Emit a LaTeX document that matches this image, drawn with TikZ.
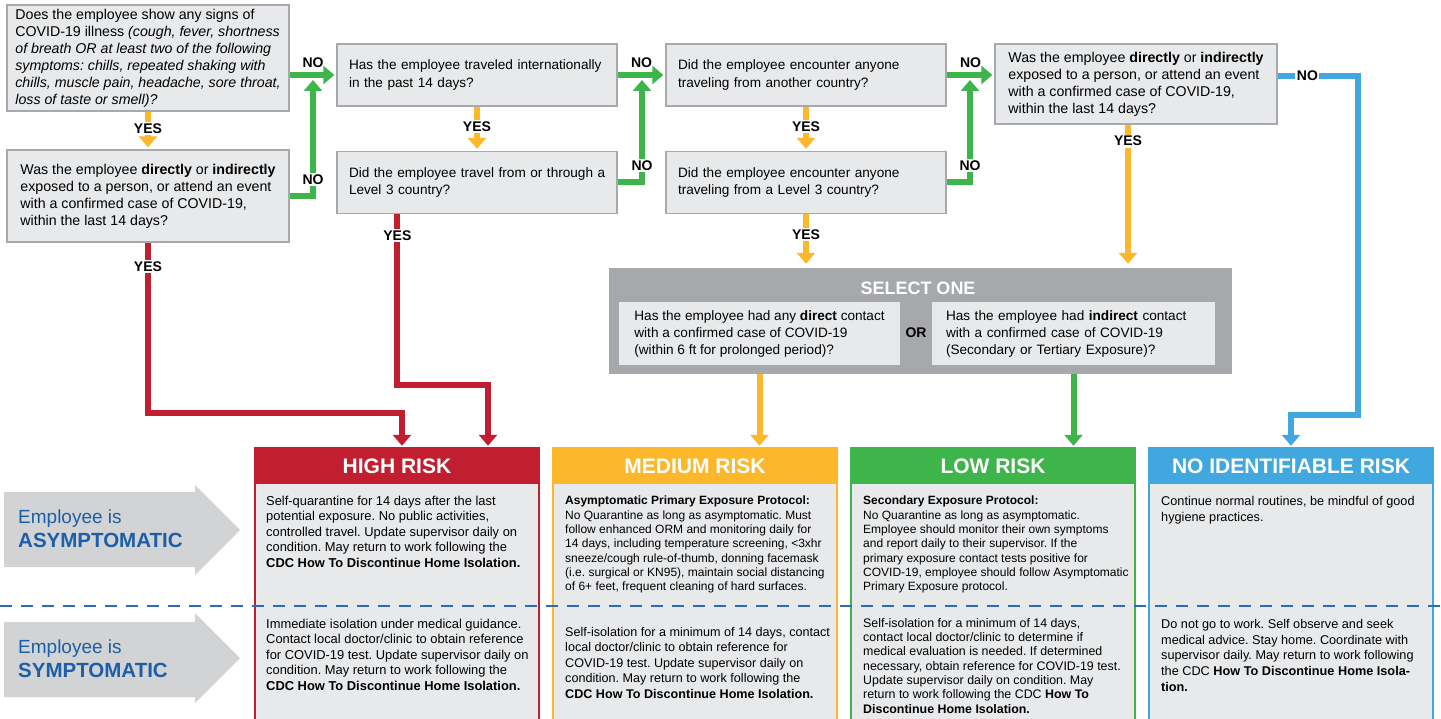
\documentclass[tikz,border=0pt]{standalone}
\usepackage{fontspec}
\setmainfont{Liberation Sans}
\usetikzlibrary{arrows.meta}
\frenchspacing
\definecolor{qfill}{HTML}{E8E9EB}
\definecolor{qdraw}{HTML}{A7A9AC}
\definecolor{rRed}{HTML}{C11F30}
\definecolor{rYel}{HTML}{FDB72B}
\definecolor{rGrn}{HTML}{3EB54B}
\definecolor{rBlu}{HTML}{41A8DF}
\definecolor{selgray}{HTML}{A6A8AB}
\definecolor{arrgray}{HTML}{D1D3D4}
\definecolor{txtblue}{HTML}{1D5EA8}
\definecolor{dashblue}{HTML}{2C6CB6}
\begin{document}
\begin{tikzpicture}[x=1pt,y=-1pt,
  q/.style={draw=qdraw, line width=1.3pt, fill=qfill, align=left, inner sep=0pt, font=\fontsize{14.2}{17}\selectfont},
  qs/.style={q, text width=256pt, font=\fontsize{13.6}{17.5}\selectfont},
  sq/.style={fill=qfill, align=left, inner sep=0pt, font=\fontsize{13.6}{17}\selectfont},
  lbl/.style={font=\bfseries\fontsize{14}{14}\selectfont, inner sep=1.5pt, text=black},
  lblw/.style={lbl, fill=white},
  conn/.style={line width=6pt, -{Triangle[width=18pt,length=11pt]}, shorten >=2pt},
  yc/.style={conn, draw=rYel},
  gc/.style={conn, draw=rGrn},
  rc/.style={conn, draw=rRed},
  bc/.style={conn, draw=rBlu},
  hdr/.style={minimum width=284pt, minimum height=36pt, inner sep=0pt, text=white, font=\bfseries\fontsize{21}{21}\selectfont},
  bodyt/.style={anchor=north west, align=left, inner sep=0pt},
  side/.style={anchor=west, align=left, inner sep=0pt, text=txtblue, font=\fontsize{19}{24}\selectfont}
  ]
\useasboundingbox (0,0) rectangle (1441,719);

% ---------- question boxes
\node[q, minimum width=282pt, minimum height=106pt] (A) at (148,58) {Does the employee show any signs of\\
COVID-19 illness \textit{(cough, fever, shortness}\\
\textit{of breath OR at least two of the following}\\
\textit{symptoms: chills, repeated shaking with}\\
\textit{chills, muscle pain, headache, sore throat,}\\
\textit{loss of taste or smell)?}};
\node[q, minimum width=282pt, minimum height=92pt] (B) at (148,196) {Was the employee \textbf{directly} or \textbf{indirectly}\\
exposed to a person, or attend an event\\
with a confirmed case of COVID-19,\\
within the last 14 days?};
\node[qs, minimum width=280pt, minimum height=62pt] (C) at (477,75) {\mbox{Has the employee traveled internationally}\\
\mbox{in the past 14 days?}\\[-3pt]{}};
\node[qs, minimum width=280pt, minimum height=62pt] (D) at (477,182.5) {\mbox{Did the employee travel from or through a}\\
\mbox{Level 3 country?}\\[-3pt]{}};
\node[qs, minimum width=280pt, minimum height=62pt] (E) at (806,75) {\mbox{Did the employee encounter anyone}\\
\mbox{traveling from another country?}\\[-3pt]{}};
\node[qs, minimum width=280pt, minimum height=62pt] (F) at (806,182.5) {\mbox{Did the employee encounter anyone}\\
\mbox{traveling from a Level 3 country?}\\[-3pt]{}};
\node[q, minimum width=282pt, minimum height=80pt] (G) at (1136,84) {Was the employee \textbf{directly} or \textbf{indirectly}\\
exposed to a person, or attend an event\\
with a confirmed case of COVID-19,\\
within the last 14 days?};

% ---------- select one
\node[fill=selgray, minimum width=623pt, minimum height=106pt, inner sep=0pt] (SEL) at (920.5,321) {};
\node[font=\bfseries\fontsize{18}{18}\selectfont, text=white, inner sep=0pt] (selt) at (918,288) {SELECT ONE};
\node[sq, minimum width=281pt, minimum height=63pt] (SL) at (759.5,333.5) {Has the employee had any \textbf{direct} contact\\
with a confirmed case of COVID-19\\
(within 6 ft for prolonged period)?};
\node[sq, text width=255pt, minimum width=283pt, minimum height=63pt] (SR) at (1073.5,333.5) {\mbox{Has the employee had \textbf{indirect} contact}\\
\mbox{with a confirmed case of COVID-19}\\
\mbox{(Secondary or Tertiary Exposure)?}};
\node[lbl] (or) at (916,333) {OR};

% ---------- risk columns
\draw[rRed, line width=2pt, fill=qfill] (255,448) rectangle (539,730);
\draw[rYel, line width=2pt, fill=qfill] (553,448) rectangle (837,730);
\draw[rGrn, line width=2pt, fill=qfill] (851,448) rectangle (1135,730);
\draw[rBlu, line width=2pt, fill=qfill] (1149,448) rectangle (1433,730);
\node[hdr, fill=rRed] (high) at (397,466) {HIGH RISK};
\node[hdr, fill=rYel] (med) at (695,466) {MEDIUM RISK};
\node[hdr, fill=rGrn] (low) at (993,466) {LOW RISK};
\node[hdr, fill=rBlu] (nir) at (1291,466) {NO IDENTIFIABLE RISK};

\node[bodyt, font=\fontsize{12.9}{15.4}\selectfont] (hA) at (266,496) {Self-quarantine for 14 days after the last\\
potential exposure. No public activities,\\
controlled travel. Update supervisor daily on\\
condition. May return to work following the\\
\textbf{CDC How To Discontinue Home Isolation.}};
\node[bodyt, font=\fontsize{12.9}{15.4}\selectfont] (hS) at (266,619) {Immediate isolation under medical guidance.\\
Contact local doctor/clinic to obtain reference\\
for COVID-19 test. Update supervisor daily on\\
condition. May return to work following the\\
\textbf{CDC How To Discontinue Home Isolation.}};

\node[bodyt, font=\fontsize{12}{14.3}\selectfont] (mA) at (565,496) {\textbf{Asymptomatic Primary Exposure Protocol:}\\
No Quarantine as long as asymptomatic. Must\\
follow enhanced ORM and monitoring daily for\\
14 days, including temperature screening, <3xhr\\
sneeze/cough rule-of-thumb, donning facemask\\
(i.e. surgical or KN95), maintain social distancing\\
of 6+ feet, frequent cleaning of hard surfaces.};
\node[bodyt, font=\fontsize{12.6}{15.5}\selectfont] (mS) at (565,627) {Self-isolation for a minimum of 14 days, contact\\
local doctor/clinic to obtain reference for\\
COVID-19 test. Update supervisor daily on\\
condition. May return to work following the\\
\textbf{CDC How To Discontinue Home Isolation.}};

\node[bodyt, font=\fontsize{12}{14.3}\selectfont] (lA) at (863,496) {\textbf{Secondary Exposure Protocol:}\\
No Quarantine as long as asymptomatic.\\
Employee should monitor their own symptoms\\
and report daily to their supervisor. If the\\
primary exposure contact tests positive for\\
COVID-19, employee should follow Asymptomatic\\
Primary Exposure protocol.};
\node[bodyt, font=\fontsize{12.4}{14.33}\selectfont] (lS) at (863,618) {Self-isolation for a minimum of 14 days,\\
contact local doctor/clinic to determine if\\
medical evaluation is needed. If determined\\
necessary, obtain reference for COVID-19 test.\\
Update supervisor daily on condition. May\\
return to work following the CDC \textbf{How To}\\
\textbf{Discontinue Home Isolation.}};

\node[bodyt, font=\fontsize{12.7}{15.6}\selectfont] (nA) at (1161,496) {Continue normal routines, be mindful of good\\
hygiene practices.};
\node[bodyt, font=\fontsize{12.7}{15.7}\selectfont] (nS) at (1161,619) {Do not go to work. Self observe and seek\\
medical advice. Stay home. Coordinate with\\
supervisor daily. May return to work following\\
the CDC \textbf{How To Discontinue Home Isola-}\\
\textbf{tion.}};

% dashed separator
\draw[dashblue, line width=2pt, dash pattern=on 12pt off 9pt] (0,606) -- (1441,606);

% ---------- side arrows
\fill[arrgray] (4,492) -- (195,492) -- (195,485) -- (240,530) -- (195,575) -- (195,567) -- (4,567) -- cycle;
\fill[arrgray] (4,622) -- (195,622) -- (195,613) -- (240,658) -- (195,703) -- (195,697) -- (4,697) -- cycle;
\node[side] (asy) at (18,529) {Employee is\\\textbf{\fontsize{20.5}{24}\selectfont ASYMPTOMATIC}};
\node[side] (sym) at (18,659) {Employee is\\\textbf{\fontsize{20.5}{24}\selectfont SYMPTOMATIC}};

% ---------- connectors
\coordinate (j1) at (313,78);
\coordinate (j2) at (642,78);
\coordinate (j3) at (970,78);
\coordinate (rb1) at (402,413);
\coordinate (rb2) at (488,385);
\coordinate (b1) at (1358,415);

\draw[yc] (A) -- node[lblw, pos=0.45] {YES} (B);
\draw[yc] (C) -- node[lblw, pos=0.45] {YES} (D);
\draw[yc] (E) -- node[lblw, pos=0.45] {YES} (F);

\draw[gc] (A.east |- C.west) -- node[lbl, above=3pt] {NO} (C.west);
\draw[gc] (B.east) -| node[lblw, pos=0.57] {NO} (j1);
\draw[gc] (C.east) -- node[lbl, above=3pt] {NO} (E.west);
\draw[gc] (D.east) -| node[lblw, pos=0.58] {NO} (j2);
\draw[gc] (E.east) -- node[lbl, above=3pt] {NO} (E.east -| G.west);
\draw[gc] (F.east) -| node[lblw, pos=0.58] {NO} (j3);

\draw[rc] (B.south) |- node[lblw, pos=0.07] {YES} (rb1) -- (rb1 |- high.north);
\draw[rc] ([xshift=61pt]D.south west) |- node[lblw, pos=0.062] {YES} (rb2) -- (rb2 |- high.north);

\draw[yc, shorten >=4pt] (F.south) -- node[lblw, pos=0.38] {YES} (F.south |- SEL.north);
\draw[yc, shorten >=4pt] ([xshift=-8pt]G.south) -- node[lblw, pos=0.115] {YES} ([xshift=-8pt]G.south |- SEL.north);

\draw[yc] (SL.south |- SEL.south) -- (SL.south |- med.north);
\draw[gc] (SR.south |- SEL.south) -- (SR.south |- low.north);

\draw[bc] ([yshift=8pt]G.east) -| node[lblw, pos=0.185] {NO} (b1) -| (nir.north);
\end{tikzpicture}
\end{document}
